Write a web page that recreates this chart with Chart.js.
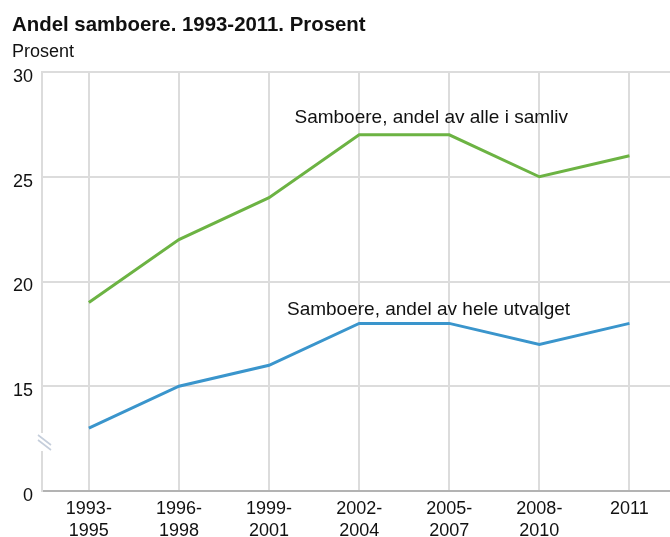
<!DOCTYPE html>
<html>
<head>
<meta charset="utf-8">
<script src="https://cdn.jsdelivr.net/npm/chart.js@4/dist/chart.umd.min.js"></script>
<style>
    body { margin: 0; background: #fff; }
    #chart { display: block; }
</style>
</head>
<body>
<canvas id="chart" width="670" height="537"></canvas>
<script>
// Data
const periods = ['1993-1995', '1996-1998', '1999-2001', '2002-2004', '2005-2007', '2008-2010', '2011'];
const andelAlleISamliv = [19, 22, 24, 27, 27, 25, 26];
const andelHeleUtvalget = [13, 15, 16, 18, 18, 17, 18];
const seriesNames = ['Samboere, andel av alle i samliv', 'Samboere, andel av hele utvalget'];

// y axis is broken: the bottom of the axis (10) is shown as 0
const yTickValues = [10, 15, 20, 25, 30];
const yTickLabels = ['0', '15', '20', '25', '30'];

const titleText = 'Andel samboere. 1993-2011. Prosent';
const unitText = 'Prosent';

const FONT = '"Liberation Sans", Arial, sans-serif';
const GREEN = '#6cb343';
const BLUE = '#3a95cc';
const GRID = '#dcdcdc';

// Title, unit label, series labels and axis break
const decorations = {
    id: 'decorations',
    afterDraw(chart) {
        const ctx = chart.ctx;
        const x = chart.scales.x;
        const y = chart.scales.y;
        ctx.save();
        ctx.fillStyle = '#111';
        ctx.textBaseline = 'alphabetic';
        ctx.textAlign = 'left';
        ctx.font = 'bold 20.4px ' + FONT;
        ctx.fillText(titleText, 12, 31);
        ctx.font = '18px ' + FONT;
        ctx.fillText(unitText, 12, 57);

        // series labels, anchored in data space
        ctx.font = '19px ' + FONT;
        ctx.textAlign = 'center';
        ctx.fillText(seriesNames[0], x.getPixelForValue(3.8), y.getPixelForValue(27.57));
        ctx.fillText(seriesNames[1], x.getPixelForValue(3.77), y.getPixelForValue(18.38));

        // axis break on the y axis
        const left = chart.chartArea.left;
        ctx.fillStyle = '#fff';
        ctx.fillRect(left - 2, 433, 4, 18);
        ctx.strokeStyle = '#c5cedb';
        ctx.lineWidth = 1.6;
        ctx.beginPath();
        ctx.moveTo(left - 4, 435); ctx.lineTo(left + 9, 445);
        ctx.moveTo(left - 4, 440); ctx.lineTo(left + 9, 450);
        ctx.stroke();
        ctx.restore();
    }
};

const ctx = document.getElementById('chart').getContext('2d');
const chart = new Chart(ctx, {
    type: 'line',
    data: {
        datasets: [{
            label: seriesNames[0],
            data: andelAlleISamliv.map((v, i) => ({ x: i, y: v })),
            borderColor: GREEN,
            borderWidth: 3,
            pointRadius: 0,
            tension: 0
        }, {
            label: seriesNames[1],
            data: andelHeleUtvalget.map((v, i) => ({ x: i, y: v })),
            borderColor: BLUE,
            borderWidth: 3,
            pointRadius: 0,
            tension: 0
        }]
    },
    options: {
        responsive: false,
        animation: false,
        layout: { padding: { top: 72, left: 0, right: 0, bottom: 0 } },
        plugins: {
            legend: { display: false },
            tooltip: { enabled: false }
        },
        scales: {
            x: {
                type: 'linear',
                min: -0.52,
                max: 6.45,
                afterBuildTicks: (scale) => {
                    scale.ticks = periods.map((_, i) => ({ value: i }));
                },
                afterFit: (scale) => { scale.height = 46; },
                grid: { color: GRID, lineWidth: 2, drawTicks: false },
                border: { color: '#b3b3b3', width: 2 },
                ticks: {
                    padding: 7,
                    color: '#111',
                    font: { family: FONT, size: 18, lineHeight: 1.22 },
                    maxRotation: 0,
                    autoSkip: false,
                    callback: (v) => {
                        const p = periods[v];
                        if (!p) return '';
                        const parts = p.split('-');
                        return parts.length > 1 ? [parts[0] + '-', parts[1]] : p;
                    }
                }
            },
            y: {
                min: 10,
                max: 30,
                afterBuildTicks: (scale) => {
                    scale.ticks = yTickValues.map((v) => ({ value: v }));
                },
                afterFit: (scale) => { scale.width = 42; },
                grid: { color: GRID, lineWidth: 2, drawTicks: false },
                border: { color: GRID, width: 2 },
                ticks: {
                    padding: 9,
                    labelOffset: 5,
                    color: '#111',
                    font: { family: FONT, size: 18 },
                    callback: (v) => yTickLabels[yTickValues.indexOf(v)]
                }
            }
        }
    },
    plugins: [decorations]
});
</script>
</body>
</html>
